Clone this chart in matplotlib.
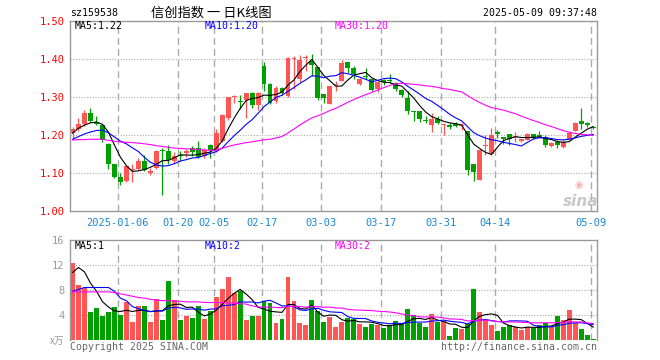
import matplotlib
matplotlib.use('Agg')
import matplotlib.pyplot as plt
import numpy as np
import pandas as pd

plt.rcParams['font.family'] = ['DejaVu Sans Mono', 'Noto Sans CJK SC']

# trading days 2024-12-24 .. 2025-05-09 (SZ exchange holidays removed)
holidays = ['2025-01-01', '2025-01-28', '2025-01-29', '2025-01-30', '2025-01-31',
            '2025-02-03', '2025-02-04', '2025-04-04', '2025-05-01', '2025-05-02', '2025-05-05']
dates = [d.strftime('%Y-%m-%d') for d in pd.bdate_range('2024-12-24', '2025-05-09')
         if d.strftime('%Y-%m-%d') not in holidays]

opens = [1.206, 1.217, 1.229, 1.259, 1.235, 1.226, 1.177, 1.125, 1.090, 1.080,
         1.108, 1.111, 1.131, 1.101, 1.113, 1.160, 1.157, 1.131, 1.148, 1.154,
         1.166, 1.166, 1.144, 1.173, 1.157, 1.185, 1.246, 1.299, 1.290, 1.291,
         1.311, 1.280, 1.382, 1.335, 1.290, 1.323, 1.302, 1.399, 1.347, 1.403,
         1.394, 1.378, 1.309, 1.282, 1.332, 1.343, 1.392, 1.375, 1.335, 1.354,
         1.347, 1.322, 1.345, 1.343, 1.337, 1.318, 1.296, 1.264, 1.262, 1.240,
         1.227, 1.243, 1.226, 1.227, 1.227, 1.223, 1.210, 1.125, 1.082, 1.170,
         1.150, 1.207, 1.196, 1.203, 1.194, 1.185, 1.188, 1.203, 1.199, 1.194,
         1.170, 1.183, 1.168, 1.189, 1.211, 1.238, 1.232, 1.222]
highs = [1.220, 1.245, 1.265, 1.270, 1.251, 1.230, 1.178, 1.125, 1.100, 1.120,
         1.125, 1.139, 1.148, 1.113, 1.161, 1.166, 1.175, 1.155, 1.157, 1.164,
         1.172, 1.185, 1.166, 1.176, 1.217, 1.254, 1.301, 1.304, 1.304, 1.311,
         1.312, 1.313, 1.392, 1.336, 1.328, 1.325, 1.404, 1.407, 1.411, 1.411,
         1.413, 1.378, 1.309, 1.328, 1.343, 1.398, 1.392, 1.381, 1.350, 1.376,
         1.350, 1.341, 1.348, 1.359, 1.339, 1.321, 1.315, 1.264, 1.264, 1.249,
         1.258, 1.249, 1.230, 1.231, 1.233, 1.232, 1.211, 1.125, 1.161, 1.201,
         1.218, 1.214, 1.196, 1.203, 1.208, 1.190, 1.205, 1.203, 1.211, 1.201,
         1.182, 1.188, 1.188, 1.208, 1.234, 1.271, 1.233, 1.224]
lows = [1.189, 1.211, 1.223, 1.233, 1.227, 1.182, 1.110, 1.087, 1.069, 1.078,
        1.078, 1.109, 1.106, 1.096, 1.110, 1.043, 1.124, 1.125, 1.132, 1.143,
        1.144, 1.141, 1.139, 1.139, 1.155, 1.183, 1.239, 1.284, 1.269, 1.246,
        1.271, 1.267, 1.315, 1.282, 1.284, 1.306, 1.299, 1.320, 1.339, 1.368,
        1.354, 1.293, 1.283, 1.281, 1.315, 1.341, 1.363, 1.346, 1.332, 1.346,
        1.315, 1.312, 1.332, 1.337, 1.315, 1.300, 1.255, 1.238, 1.234, 1.232,
        1.207, 1.229, 1.201, 1.217, 1.220, 1.214, 1.094, 1.080, 1.081, 1.148,
        1.148, 1.192, 1.176, 1.175, 1.183, 1.182, 1.186, 1.190, 1.192, 1.168,
        1.168, 1.166, 1.165, 1.186, 1.210, 1.217, 1.220, 1.216]
closes = [1.216, 1.228, 1.259, 1.238, 1.230, 1.186, 1.125, 1.091, 1.078, 1.119,
          1.111, 1.131, 1.109, 1.107, 1.159, 1.157, 1.135, 1.144, 1.145, 1.157,
          1.155, 1.143, 1.161, 1.161, 1.206, 1.252, 1.300, 1.302, 1.287, 1.311,
          1.280, 1.311, 1.335, 1.284, 1.323, 1.311, 1.403, 1.402, 1.396, 1.406,
          1.385, 1.297, 1.296, 1.328, 1.334, 1.389, 1.375, 1.361, 1.346, 1.351,
          1.318, 1.339, 1.339, 1.341, 1.320, 1.304, 1.262, 1.260, 1.241, 1.236,
          1.243, 1.232, 1.229, 1.220, 1.225, 1.226, 1.109, 1.104, 1.161, 1.173,
          1.199, 1.204, 1.190, 1.189, 1.196, 1.189, 1.203, 1.192, 1.196, 1.173,
          1.178, 1.175, 1.183, 1.205, 1.232, 1.230, 1.227, 1.218]
# volume, 万手
volumes = [12.3, 8.8, 8.4, 4.5, 5.1, 3.9, 4.5, 5.3, 4.0, 6.1,
           2.9, 5.4, 5.4, 2.9, 6.5, 3.2, 9.4, 6.4, 3.2, 3.8,
           3.5, 5.4, 3.4, 4.6, 6.9, 8.2, 10.1, 7.5, 7.8, 3.2,
           3.8, 3.8, 6.2, 6.0, 2.7, 3.4, 10.1, 6.2, 2.7, 2.4,
           6.4, 4.6, 2.9, 3.7, 2.1, 2.9, 3.5, 3.4, 2.6, 2.1,
           2.6, 2.4, 1.9, 2.4, 3.0, 2.6, 5.0, 4.0, 2.7, 2.1,
           4.2, 2.9, 3.0, 0.6, 1.9, 1.8, 2.6, 8.2, 4.5, 3.2,
           2.4, 1.4, 2.1, 2.4, 2.1, 1.6, 2.1, 1.9, 2.4, 2.7,
           2.2, 3.8, 3.2, 4.8, 2.7, 1.8, 0.8, 0.2]

# MA values on the first days depend on history before the window ->
ma5_head = [1.205, 1.218, 1.226, 1.232]
ma10_head = [1.189, 1.196, 1.203, 1.208, 1.212, 1.213, 1.206, 1.195, 1.184]
ma30_head = [1.187, 1.188, 1.188, 1.189, 1.189, 1.189, 1.186, 1.184, 1.182, 1.181,
             1.180, 1.179, 1.177, 1.175, 1.172, 1.170, 1.168, 1.166, 1.165, 1.164,
             1.163, 1.162, 1.161, 1.160, 1.160, 1.165, 1.170, 1.174, 1.177]
vma5_head = [10.8, 11.6, 10.9, 9.1]
vma10_head = [7.8, 8.1, 8.4, 8.4, 8.4, 8.4, 8.4, 7.8, 6.7]
vma30_head = [7.7, 7.7, 7.7, 7.7, 7.7, 7.7, 7.7, 7.6, 7.4, 7.2,
              7.0, 6.8, 6.7, 6.5, 6.4, 6.3, 6.3, 6.2, 6.2, 6.1,
              6.1, 6.1, 6.0, 6.0, 6.0, 6.0, 5.9, 5.9, 5.8]

tick_dates = ['2025-01-06', '2025-01-20', '2025-02-05', '2025-02-17', '2025-03-03',
              '2025-03-17', '2025-03-31', '2025-04-14', '2025-05-09']
tick_labels = ['2025-01-06', '01-20', '02-05', '02-17', '03-03', '03-17', '03-31', '04-14', '05-09']


def moving_avg(values, n, head):
    s = pd.Series(values).rolling(n).mean().to_numpy()
    s[:len(head)] = head
    return s


RED = '#ff5555'
GREEN = '#00a000'
GRID = '#aaaaaa'
SPINE = '#999999'

W, H = 660, 360
fig = plt.figure(figsize=(6.6, 3.6), dpi=100)


def px(x, y):
    return x / W, 1 - y / H


x0, x1 = 70, 596.7
ax = fig.add_axes([x0 / W, 1 - 211.3 / H, (x1 - x0) / W, (211.3 - 20.7) / H])
axv = fig.add_axes([x0 / W, 1 - 340 / H, (x1 - x0) / W, 100 / H])

n = len(closes)
xs = np.arange(n) + 0.42
o = np.array(opens)
c = np.array(closes)
up = c >= o
colors = np.where(up, RED, GREEN)

# candles
ax.vlines(xs, lows, highs, colors=colors, linewidth=0.9, zorder=2)
bottoms = np.minimum(o, c)
heights = np.maximum(np.abs(c - o), 0.0028)
ax.bar(xs, heights, bottom=bottoms, width=0.82, color=colors, linewidth=0, zorder=2)

ma5 = moving_avg(closes, 5, ma5_head)
ma10 = moving_avg(closes, 10, ma10_head)
ma30 = moving_avg(closes, 30, ma30_head)
ax.plot(xs, ma5, color='black', lw=0.8, zorder=3)
ax.plot(xs, ma10, color='#0000ff', lw=0.8, zorder=3)
ax.plot(xs, ma30, color='#ff00ff', lw=0.8, zorder=3)

# volume
axv.bar(xs, volumes, width=0.82, color=colors, linewidth=0, zorder=2)
axv.plot(xs, moving_avg(volumes, 5, vma5_head), color='black', lw=0.8, zorder=3)
axv.plot(xs, moving_avg(volumes, 10, vma10_head), color='#0000ff', lw=0.8, zorder=3)
axv.plot(xs, moving_avg(volumes, 30, vma30_head), color='#ff00ff', lw=0.8, zorder=3)

tick_pos = [dates.index(d) for d in tick_dates]

for a in (ax, axv):
    a.set_xlim(0, n)
    a.tick_params(length=0)
    for s in a.spines.values():
        s.set_color(SPINE)
        s.set_linewidth(1.0)
    for p in tick_pos:
        a.axvline(p, color=GRID, lw=1.0, linestyle=(0, (5, 3)), zorder=1)

ax.set_ylim(1.0, 1.5)
ax.set_yticks([1.0, 1.1, 1.2, 1.3, 1.4, 1.5])
ax.set_yticklabels(['%.2f' % v for v in [1.0, 1.1, 1.2, 1.3, 1.4, 1.5]], color='#ff0000', fontsize=7.5)
ax.tick_params(axis='y', pad=4)
for v in [1.1, 1.2, 1.3, 1.4]:
    ax.axhline(v, color=GRID, lw=0.8, linestyle=(0, (1, 1.5)), zorder=1)
ax.set_xticks(tick_pos)
ax.set_xticklabels(tick_labels, color='#1a88d0', fontsize=7.5)
ax.tick_params(axis='x', pad=5)

axv.set_ylim(0, 16)
axv.set_yticks([4, 8, 12, 16])
axv.set_yticklabels(['4', '8', '12', '16'], color=SPINE, fontsize=7.5)
axv.tick_params(axis='y', pad=4)
axv.set_xticks([])
axv.spines['bottom'].set_visible(False)
for v in [4, 8, 12]:
    axv.axhline(v, color=GRID, lw=0.8, linestyle=(0, (1, 1.5)), zorder=1)

# header and labels
fs = 7.1
fig.text(*px(70, 13), 'sz159538', fontsize=fs, va='center', ha='left')
fig.text(*px(151, 13), '信创指数 一 日K线图', fontsize=9.5, va='center', ha='left',
         family=['Noto Sans CJK SC', 'DejaVu Sans'])
fig.text(*px(597, 13), '2025-05-09 09:37:48', fontsize=fs, va='center', ha='right')

fig.text(*px(75, 26), 'MA5:1.22', fontsize=fs, va='center', color='black')
fig.text(*px(205, 26), 'MA10:1.20', fontsize=fs, va='center', color='#0000ff')
fig.text(*px(335, 26), 'MA30:1.20', fontsize=fs, va='center', color='#ff00ff')

fig.text(*px(75, 246), 'MA5:1', fontsize=fs, va='center', color='black')
fig.text(*px(205, 246), 'MA10:2', fontsize=fs, va='center', color='#0000ff')
fig.text(*px(335, 246), 'MA30:2', fontsize=fs, va='center', color='#ff00ff')

fig.text(*px(64, 341), 'x万', fontsize=7, va='center', ha='right', color=SPINE,
         family=['Noto Sans CJK SC', 'DejaVu Sans'])
fig.text(*px(70, 347), 'Copyright 2025 SINA.COM', fontsize=fs, va='center', ha='left', color='#666666')
fig.text(*px(597, 347), 'http://finance.sina.com.cn', fontsize=fs, va='center', ha='right', color='#666666')

# faint sina watermark
fig.text(*px(581, 201), 'sina', fontsize=11, fontweight='bold', style='italic', va='center',
         ha='center', color='#bbbbbb', family='DejaVu Sans', alpha=0.8)
fig.text(*px(579, 185), '◉', fontsize=7, va='center', ha='center', color='#f4a0a0',
         family='DejaVu Sans', alpha=0.8)

fig.savefig('out.png', dpi=100)
